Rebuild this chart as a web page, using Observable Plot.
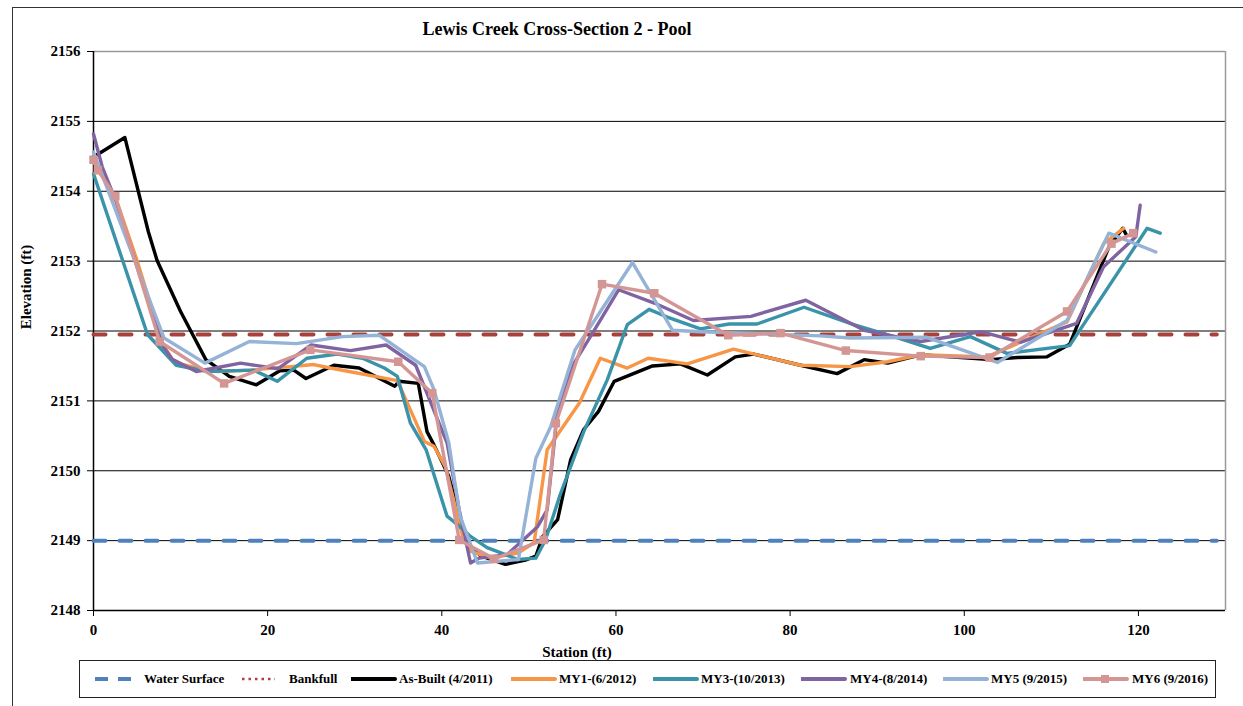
<!DOCTYPE html>
<html><head><meta charset="utf-8">
<script src="https://cdn.jsdelivr.net/npm/d3@7"></script>
<script src="https://cdn.jsdelivr.net/npm/@observablehq/plot@0.6"></script>
<style>
body{margin:0;background:#fff;}
#wrap{position:relative;width:1243px;height:706px;overflow:hidden;font-family:"Liberation Serif","Times New Roman",serif;font-weight:bold;color:#000;}
#border{position:absolute;left:12px;top:7px;width:1400px;height:900px;border-left:1.5px solid #333;border-top:1.5px solid #333;}
#title{position:absolute;left:0;top:19px;width:1114px;text-align:center;font-size:18px;white-space:nowrap;}
#ylabel{position:absolute;left:26px;top:287px;transform:translate(-50%,-50%) rotate(-90deg);font-size:15px;white-space:nowrap;}
#xlabel{position:absolute;left:577px;top:644px;transform:translateX(-50%);font-size:15px;white-space:nowrap;}
#chart{position:absolute;left:0;top:0;}
#legend{position:absolute;left:79px;top:660px;width:1137px;height:38px;border:1.5px solid #222;box-sizing:border-box;}
.item{position:absolute;top:0;height:100%;font-size:13px;}
.item svg{position:absolute;top:50%;transform:translateY(-50%);}
.item span{position:absolute;top:50%;transform:translateY(-50%);white-space:nowrap;}
</style></head>
<body>
<div id="wrap">
  <div id="border"></div>
  <div id="chart"></div>
  <div id="title">Lewis Creek Cross-Section 2 - Pool</div>
  <div id="ylabel">Elevation (ft)</div>
  <div id="xlabel">Station (ft)</div>
  <div id="legend"></div>
</div>
<script>
const xTicks = [0, 20, 40, 60, 80, 100, 120];
const yTicks = [2148, 2149, 2150, 2151, 2152, 2153, 2154, 2155, 2156];

const waterX = [0, 129];
const waterY = [2149.0, 2149.0];
const bankfullX = [0, 129];
const bankfullY = [2151.95, 2151.95];

const asBuiltX = [0, 3.6, 6.3, 7.3, 10.0, 12.9, 15.6, 18.7, 21.4, 23.0, 24.4, 27.6, 30.5, 34.6, 35.1, 37.3, 38.3, 39.1, 40.8, 42.0, 42.9, 44.5, 47.3, 49.6, 50.8, 51.6, 53.3, 54.8, 56.3, 58.0, 59.8, 64.2, 67.4, 70.5, 73.7, 75.8, 81.2, 85.4, 88.5, 91.2, 95.0, 103.0, 106.1, 109.5, 112.1, 116.6, 118.2, 118.6];
const asBuiltY = [2154.49, 2154.77, 2153.42, 2153.01, 2152.28, 2151.59, 2151.35, 2151.23, 2151.43, 2151.44, 2151.32, 2151.51, 2151.47, 2151.21, 2151.28, 2151.25, 2150.56, 2150.37, 2149.92, 2149.35, 2148.97, 2148.78, 2148.66, 2148.72, 2148.78, 2149.06, 2149.30, 2150.16, 2150.59, 2150.85, 2151.28, 2151.50, 2151.53, 2151.37, 2151.63, 2151.67, 2151.51, 2151.39, 2151.59, 2151.54, 2151.66, 2151.59, 2151.62, 2151.63, 2151.81, 2153.20, 2153.47, 2153.38];

const my1X = [0, 2.5, 5.0, 8.0, 9.3, 12.5, 14.2, 18.1, 22.6, 25.3, 27.2, 34.9, 38.0, 39.1, 40.4, 42.4, 43.3, 45.6, 48.7, 50.6, 52.1, 55.8, 58.2, 61.3, 63.7, 68.2, 73.5, 81.2, 86.9, 91.2, 95.0, 102.6, 111.8, 116.0, 118.3];
const my1Y = [2154.42, 2153.92, 2153.01, 2151.80, 2151.55, 2151.45, 2151.42, 2151.44, 2151.49, 2151.52, 2151.47, 2151.29, 2150.42, 2150.35, 2150.06, 2149.06, 2148.85, 2148.75, 2148.82, 2148.97, 2150.30, 2150.97, 2151.61, 2151.47, 2151.61, 2151.53, 2151.74, 2151.51, 2151.49, 2151.56, 2151.66, 2151.63, 2152.13, 2153.25, 2153.47];

const my3X = [0, 6.2, 9.5, 13.1, 18.4, 21.1, 24.5, 28.0, 30.9, 33.4, 34.9, 36.4, 38.2, 40.6, 41.8, 43.3, 45.2, 47.1, 48.7, 50.8, 51.9, 53.6, 56.3, 59.0, 61.3, 63.8, 65.9, 69.7, 73.0, 76.2, 81.6, 87.3, 91.9, 96.1, 100.7, 104.9, 112.1, 121.0, 122.5];
const my3Y = [2154.25, 2151.95, 2151.51, 2151.42, 2151.44, 2151.28, 2151.61, 2151.67, 2151.61, 2151.47, 2151.35, 2150.68, 2150.30, 2149.35, 2149.23, 2149.06, 2148.90, 2148.81, 2148.73, 2148.75, 2149.01, 2149.66, 2150.56, 2151.30, 2152.09, 2152.31, 2152.20, 2152.03, 2152.10, 2152.10, 2152.34, 2152.09, 2151.92, 2151.75, 2151.92, 2151.68, 2151.79, 2153.47, 2153.40];

const my4X = [0, 1.0, 2.6, 7.9, 9.0, 11.8, 16.9, 21.2, 25.0, 29.5, 33.6, 37.0, 40.6, 42.0, 43.3, 44.3, 47.5, 51.0, 52.1, 53.3, 55.2, 57.5, 60.3, 64.4, 68.9, 75.5, 81.8, 88.5, 95.0, 101.9, 106.5, 112.9, 116.0, 119.7, 120.2];
const my4Y = [2154.82, 2154.35, 2153.85, 2151.80, 2151.60, 2151.42, 2151.54, 2151.46, 2151.80, 2151.72, 2151.80, 2151.51, 2150.40, 2149.44, 2148.68, 2148.75, 2148.80, 2149.20, 2149.44, 2150.87, 2151.54, 2152.01, 2152.59, 2152.40, 2152.15, 2152.21, 2152.44, 2152.01, 2151.85, 2151.99, 2151.84, 2152.11, 2152.92, 2153.35, 2153.80];

const my5X = [0, 8.1, 12.8, 17.9, 23.3, 28.6, 32.8, 38.0, 39.1, 40.8, 42.1, 44.1, 48.8, 50.8, 52.5, 55.3, 57.8, 61.9, 66.5, 69.7, 83.5, 86.9, 95.7, 103.8, 111.8, 116.6, 122.0];
const my5Y = [2154.56, 2151.90, 2151.54, 2151.85, 2151.82, 2151.92, 2151.94, 2151.49, 2151.16, 2150.40, 2149.35, 2148.68, 2148.73, 2150.18, 2150.63, 2151.73, 2152.20, 2152.98, 2152.01, 2151.99, 2151.93, 2151.90, 2151.91, 2151.55, 2152.15, 2153.40, 2153.13];

const my6X = [0, 0.5, 2.5, 7.6, 15.0, 24.9, 35.0, 38.9, 42.0, 46.0, 51.7, 53.1, 58.4, 64.4, 72.9, 78.9, 86.4, 95.0, 102.9, 111.8, 116.9, 119.4];
const my6Y = [2154.45, 2154.30, 2153.93, 2151.85, 2151.25, 2151.73, 2151.56, 2151.11, 2149.01, 2148.74, 2149.01, 2150.68, 2152.67, 2152.54, 2151.94, 2151.97, 2151.72, 2151.64, 2151.62, 2152.28, 2153.25, 2153.40];

const seriesNames = ["Water Surface", "Bankfull", "As-Built (4/2011)", "MY1-(6/2012)", "MY3-(10/2013)", "MY4-(8/2014)", "MY5 (9/2015)", "MY6 (9/2016)"];
const colors = ["#4F81BD", "#A8403C", "#000000", "#F79646", "#3A93A8", "#8064A2", "#95B3D7", "#D49694"];

const toRows = (xs, ys) => xs.map((x, i) => ({x, y: ys[i]}));
const lineOpts = (c) => ({x: "x", y: "y", stroke: c, strokeWidth: 3.4, strokeLinejoin: "round", strokeLinecap: "round"});

const chart = Plot.plot({
  width: 1243, height: 662,
  marginLeft: 93, marginRight: 18, marginTop: 51, marginBottom: 52,
  style: {fontFamily: '"Liberation Serif","Times New Roman",serif', fontWeight: "bold", fontSize: "15px", color: "#000", background: "transparent", overflow: "visible"},
  x: {domain: [0, 130]},
  y: {domain: [2148, 2156]},
  marks: [
    Plot.gridY(yTicks.filter(t => t > 2148 && t < 2156), {stroke: "#000", strokeOpacity: 1, strokeWidth: 1}),
    Plot.ruleY([2156], {stroke: "#9a9a9a", strokeWidth: 1.5}),
    Plot.ruleX([130], {stroke: "#9a9a9a", strokeWidth: 1.5}),
    Plot.axisY({ticks: yTicks, tickSize: 6, tickPadding: 7, tickFormat: "d", label: null, fontSize: 15}),
    Plot.axisX({ticks: xTicks, tickSize: 6, tickPadding: 8, tickFormat: "d", label: null, fontSize: 15}),
    Plot.ruleX([0], {stroke: "#000", strokeWidth: 1.5}),
    Plot.ruleY([2148], {stroke: "#000", strokeWidth: 1.5}),
    Plot.line(toRows(waterX, waterY), {x: "x", y: "y", stroke: colors[0], strokeWidth: 4, strokeDasharray: "12,14"}),
    Plot.line(toRows(bankfullX, bankfullY), {x: "x", y: "y", stroke: colors[1], strokeWidth: 4, strokeDasharray: "12,14"}),
    Plot.line(toRows(asBuiltX, asBuiltY), lineOpts(colors[2])),
    Plot.line(toRows(my1X, my1Y), lineOpts(colors[3])),
    Plot.line(toRows(my3X, my3Y), lineOpts(colors[4])),
    Plot.line(toRows(my4X, my4Y), lineOpts(colors[5])),
    Plot.line(toRows(my5X, my5Y), lineOpts(colors[6])),
    Plot.line(toRows(my6X, my6Y), lineOpts(colors[7])),
    Plot.dot(toRows(my6X, my6Y), {x: "x", y: "y", symbol: "square", r: 4.8, fill: colors[7], stroke: "none"})
  ]
});
document.getElementById("chart").appendChild(chart);

// Legend
const swatchLeft = [14, 161, 271, 431, 573, 721, 863, 1003];
const textLeft = [64, 209, 319, 479, 621, 770, 911, 1052];
const legend = document.getElementById("legend");
seriesNames.forEach((name, i) => {
  const item = document.createElement("div");
  item.className = "item";
  item.style.left = "0px";
  const w = 44;
  let sw;
  if (i === 0) {
    sw = `<line x1="1" y1="6" x2="${w}" y2="6" stroke="${colors[i]}" stroke-width="4" stroke-dasharray="13,10"/>`;
  } else if (i === 1) {
    sw = `<line x1="1" y1="6" x2="${w - 10}" y2="6" stroke="${colors[i]}" stroke-width="2.5" stroke-dasharray="2.5,4"/>`;
  } else {
    sw = `<line x1="0" y1="6" x2="${w}" y2="6" stroke="${colors[i]}" stroke-width="4" stroke-linecap="round"/>`;
    if (i === 7) sw += `<rect x="${w / 2 - 4}" y="2" width="8" height="8" fill="${colors[i]}"/>`;
  }
  item.innerHTML = `<svg width="${w + 2}" height="12" style="left:${swatchLeft[i]}px">${sw}</svg><span style="left:${textLeft[i]}px">${name}</span>`;
  legend.appendChild(item);
});
</script>
</body></html>
